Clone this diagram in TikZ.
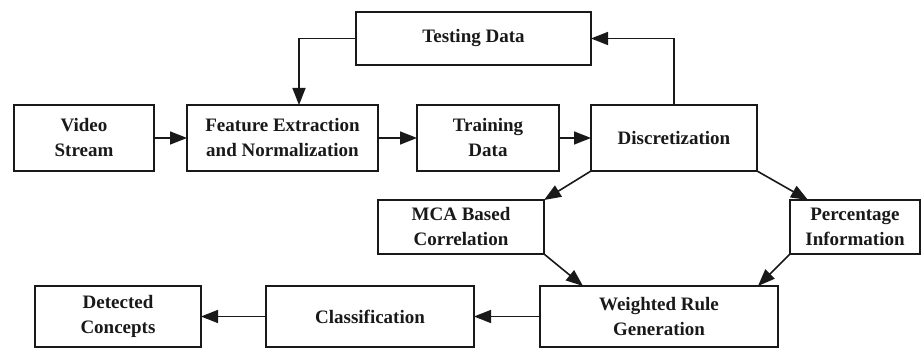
\documentclass[tikz,border=0pt]{standalone}
\usepackage{fontspec}
\setmainfont{Liberation Serif}
\usepackage{tikz}
\usetikzlibrary{arrows.meta,calc}
\definecolor{FlowInk}{gray}{0.1}
\tikzset{
    flow/diagram/.style={
        font=\bfseries\fontsize{19}{25}\selectfont,
        draw=FlowInk,
        text=FlowInk,
        line width=1.6pt,
        line join=miter,
        every node/.style={inner sep=2pt, outer sep=0pt}
    },
    flow/box/.style={
        draw=FlowInk, rectangle, align=center,
        line width=1.6pt
    },
    flow/link/.style={
        draw=FlowInk, line width=1.6pt,
        -{Triangle[length=17pt, width=13pt]}
    }
}

\begin{document}
\begin{tikzpicture}[flow/diagram, x=1pt, y=1pt]
    \useasboundingbox (0,0) rectangle (922,348);
    % top row
    \node[flow/box, minimum width=235pt, minimum height=53pt]
        (test) at (473.5,309.5) {Testing Data};
    \node[flow/box, minimum width=140pt, minimum height=66pt]
        (video) at (84,210) {Video\\Stream};
    \node[flow/box, minimum width=191pt, minimum height=66pt]
        (feat) at (282.5,210) {Feature Extraction\\and Normalization};
    \node[flow/box, minimum width=142pt, minimum height=66pt]
        (train) at (488,210) {Training\\Data};
    \node[flow/box, minimum width=166pt, minimum height=66pt]
        (disc) at (674,210) {Discretization};
    % middle row
    \node[flow/box, minimum width=166pt, minimum height=54pt]
        (mca) at (461,121) {MCA Based\\Correlation};
    \node[flow/box, minimum width=130pt, minimum height=54pt]
        (perc) at (855,121) {Percentage\\Information};
    % bottom row
    \node[flow/box, minimum width=238pt, minimum height=61pt]
        (wrg) at (659,31.5) {Weighted Rule\\Generation};
    \node[flow/box, minimum width=208pt, minimum height=61pt]
        (cls) at (370,31.5) {Classification};
    \node[flow/box, minimum width=166pt, minimum height=61pt]
        (det) at (118,31.5) {Detected\\Concepts};
    % connectors
    \draw[flow/link] (video) -- (feat);
    \draw[flow/link] (feat) -- (train);
    \draw[flow/link] (train) -- (disc);
    \draw[flow/link] (disc.north) |- (test.east);
    \draw[flow/link] (test.west) -| ([xshift=16.5pt]feat.north);
    \draw[flow/link] (disc.south west) -- (mca.north east);
    \draw[flow/link] (disc.south east) -- ([xshift=18pt]perc.north west);
    \draw[flow/link] (mca.south east) -- ([xshift=43pt]wrg.north west);
    \draw[flow/link] (perc.south west) -- ([xshift=-20pt]wrg.north east);
    \draw[flow/link] (wrg) -- (cls);
    \draw[flow/link] (cls) -- (det);
\end{tikzpicture}
\end{document}
